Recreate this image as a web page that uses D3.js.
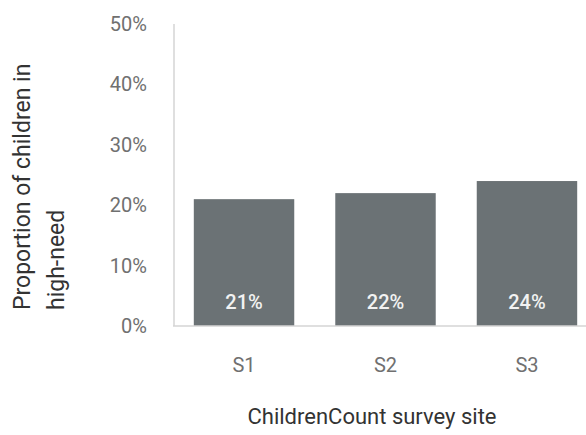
<!DOCTYPE html>
<html>
<head>
<meta charset="utf-8">
<script src="https://cdn.jsdelivr.net/npm/d3@7"></script>
<style>
  html, body { margin: 0; padding: 0; background: #fff; }
  svg { display: block; }
</style>
</head>
<body>
<svg id="chart" width="586" height="435"></svg>
<script>
// Survey sites and share of children in high need
const sites = ["S1", "S2", "S3"];
const shares = [0.21, 0.22, 0.24];
const yTicks = [0, 0.1, 0.2, 0.3, 0.4, 0.5];

const svg = d3.select("#chart");
const font = "Roboto, sans-serif";
const pct = d3.format(".0%");

const x = d3.scaleBand()
  .domain(sites)
  .range([174, 597])
  .paddingInner(0.29)
  .paddingOuter(0.14);

const y = d3.scaleLinear()
  .domain([0, 0.5])
  .range([326, 24]);

// Vertical axis line
svg.append("line")
  .attr("x1", 174).attr("x2", 174)
  .attr("y1", y(0.5)).attr("y2", y(0))
  .attr("stroke", "#d4d4d4").attr("stroke-width", 1.5);

// Y tick labels
svg.append("g").selectAll("text")
  .data(yTicks)
  .join("text")
  .attr("x", 147)
  .attr("y", d => y(d))
  .attr("dy", "0.35em")
  .attr("text-anchor", "end")
  .attr("font-family", font)
  .attr("font-size", 20)
  .attr("fill", "#707070")
  .text(d => pct(d));

// Bars
svg.append("g").selectAll("rect")
  .data(sites)
  .join("rect")
  .attr("x", d => x(d))
  .attr("width", x.bandwidth())
  .attr("y", (d, i) => y(shares[i]))
  .attr("height", (d, i) => y(0) - y(shares[i]))
  .attr("fill", "#6b7275");

// Baseline
svg.append("line")
  .attr("x1", 173).attr("x2", 586)
  .attr("y1", y(0)).attr("y2", y(0))
  .attr("stroke", "#d4d4d4").attr("stroke-width", 1.5);

// Value labels inside bars
svg.append("g").selectAll("text")
  .data(sites)
  .join("text")
  .attr("x", d => x(d) + x.bandwidth() / 2)
  .attr("y", 302)
  .attr("dy", "0.35em")
  .attr("text-anchor", "middle")
  .attr("font-family", font)
  .attr("font-size", 20)
  .attr("font-weight", 500)
  .attr("fill", "#f2f2f2")
  .text((d, i) => pct(shares[i]));

// Category labels
svg.append("g").selectAll("text")
  .data(sites)
  .join("text")
  .attr("x", d => x(d) + x.bandwidth() / 2)
  .attr("y", 365)
  .attr("dy", "0.35em")
  .attr("text-anchor", "middle")
  .attr("font-family", font)
  .attr("font-size", 20)
  .attr("fill", "#707070")
  .text(d => d);

// Axis titles
svg.append("text")
  .attr("x", 372)
  .attr("y", 424)
  .attr("text-anchor", "middle")
  .attr("font-family", font)
  .attr("font-size", 22)
  .attr("fill", "#333")
  .text("ChildrenCount survey site");

const yTitle = svg.append("text")
  .attr("transform", "translate(0,310) rotate(-90)")
  .attr("text-anchor", "start")
  .attr("font-family", font)
  .attr("font-size", 23)
  .attr("fill", "#333");
yTitle.append("tspan").attr("x", 0).attr("y", 30).text("Proportion of children in");
yTitle.append("tspan").attr("x", 0).attr("y", 64).text("high-need");
</script>
</body>
</html>
